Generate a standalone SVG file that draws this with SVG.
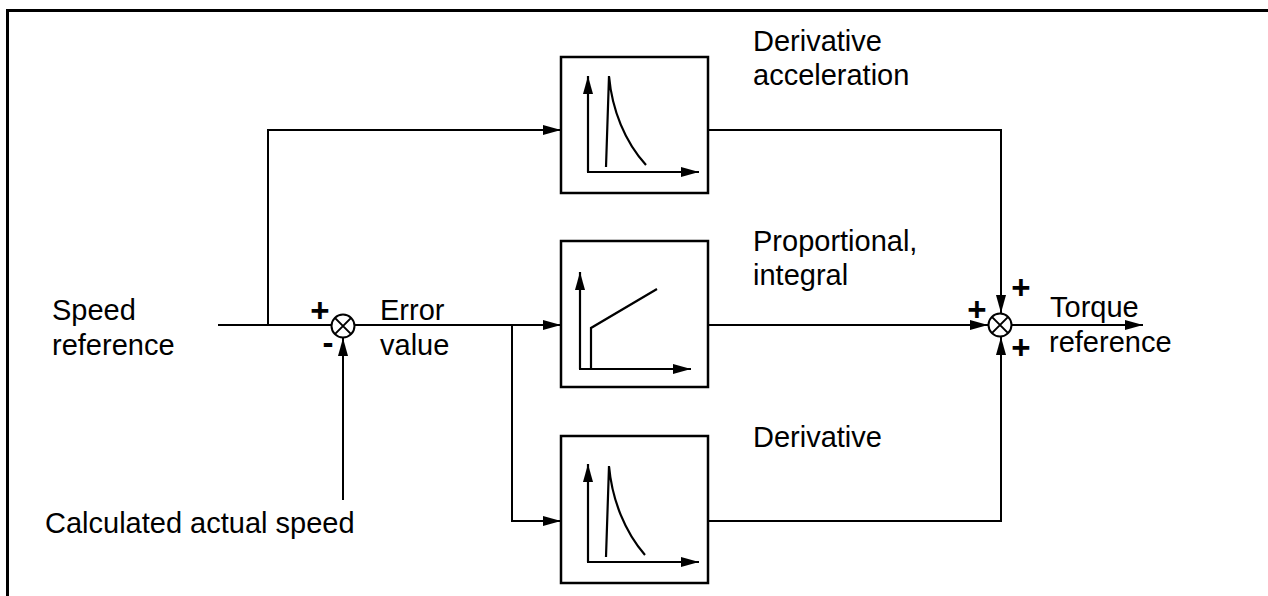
<svg xmlns="http://www.w3.org/2000/svg" width="1268" height="596" viewBox="0 0 1268 596">
<style>
.t{font-family:"Liberation Sans",Arial,sans-serif;font-size:29px;fill:#000}
.s{font-family:"Liberation Sans",Arial,sans-serif;font-size:33px;font-weight:bold;fill:#000}
.ln{fill:none;stroke:#000;stroke-width:2}
.box{fill:#fff;stroke:#000;stroke-width:2.5}
.ax{fill:none;stroke:#000;stroke-width:2.2}
</style>
<defs>
<marker id="ah" viewBox="0 0 18 10" refX="18" refY="5" markerWidth="18" markerHeight="10" markerUnits="userSpaceOnUse" orient="auto">
<path d="M0,0 L18,5 L0,10 Z" fill="#000"/>
</marker>
</defs>
<rect width="1268" height="596" fill="#fff"/>
<path d="M7.5,596 V10.5 H1268" fill="none" stroke="#000" stroke-width="3"/>

<g id="connectors">
<path class="ln" d="M218,325 H331"/>
<path class="ln" d="M268,325 V130 H561" marker-end="url(#ah)"/>
<path class="ln" d="M343,500 V338" marker-end="url(#ah)"/>
<path class="ln" d="M355,325 H561" marker-end="url(#ah)"/>
<path class="ln" d="M512,325 V521 H561" marker-end="url(#ah)"/>
<path class="ln" d="M708,130 H1001 V313" marker-end="url(#ah)"/>
<path class="ln" d="M708,325 H988" marker-end="url(#ah)"/>
<path class="ln" d="M708,521 H1001 V337" marker-end="url(#ah)"/>
<path class="ln" d="M1012,325 H1143" marker-end="url(#ah)"/>
</g>

<g id="sum1">
<circle cx="343" cy="326" r="11.5" fill="#fff" stroke="#000" stroke-width="2"/>
<path class="ln" d="M334.9,317.9 L351.1,334.1 M351.1,317.9 L334.9,334.1"/>
<text class="s" x="320" y="322" text-anchor="middle">+</text>
<text class="s" x="328" y="354" text-anchor="middle">-</text>
</g>

<g id="sum2">
<circle cx="1000" cy="325" r="11.5" fill="#fff" stroke="#000" stroke-width="2"/>
<path class="ln" d="M991.9,316.9 L1008.1,333.1 M1008.1,316.9 L991.9,333.1"/>
<text class="s" x="977" y="321" text-anchor="middle">+</text>
<text class="s" x="1021" y="299" text-anchor="middle">+</text>
<text class="s" x="1021" y="359" text-anchor="middle">+</text>
</g>

<g id="deriv-accel">
<rect class="box" x="561" y="57" width="147" height="136"/>
<path class="ax" d="M588,172 V76" marker-end="url(#ah)"/>
<path class="ax" d="M587,172 H699" marker-end="url(#ah)"/>
<path class="ax" d="M606,167 L609,76 C612,110 625,142 646,165"/>
</g>

<g id="prop-int">
<rect class="box" x="561" y="241" width="147" height="146"/>
<path class="ax" d="M580,369 V272" marker-end="url(#ah)"/>
<path class="ax" d="M579,369 H691" marker-end="url(#ah)"/>
<path class="ax" d="M591,369 V328 L657,289"/>
</g>

<g id="deriv">
<rect class="box" x="561" y="436" width="147" height="147"/>
<path class="ax" d="M588,562 V464" marker-end="url(#ah)"/>
<path class="ax" d="M587,562 H699" marker-end="url(#ah)"/>
<path class="ax" d="M606,557 L609,466 C612,500 625,532 645,555"/>
</g>

<g id="labels">
<text class="t" x="753" y="51">Derivative</text>
<text class="t" x="753" y="85">acceleration</text>
<text class="t" x="753" y="251">Proportional,</text>
<text class="t" x="753" y="285">integral</text>
<text class="t" x="753" y="447">Derivative</text>
<text class="t" x="52" y="320">Speed</text>
<text class="t" x="52" y="355">reference</text>
<text class="t" x="380" y="320">Error</text>
<text class="t" x="380" y="355">value</text>
<text class="t" x="1050" y="317">Torque</text>
<text class="t" x="1049" y="352">reference</text>
<text class="t" x="45" y="533">Calculated actual speed</text>
</g>
</svg>
